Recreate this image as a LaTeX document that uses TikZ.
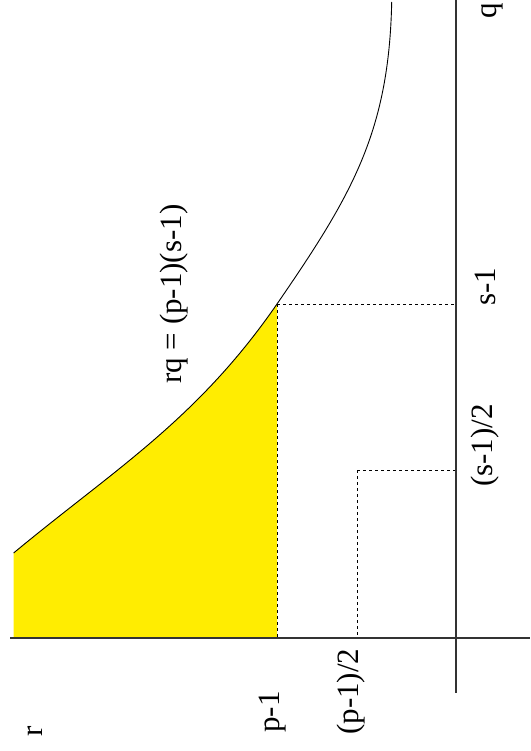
\documentclass[tikz,border=0pt]{standalone}
\usepackage{fontspec}
\setmainfont{Liberation Serif}
\begin{document}
\begin{tikzpicture}[x=1pt,y=-1pt,
  axis/.style={draw=black!80,line width=1.1pt},
  curve/.style={draw=black,line width=0.9pt},
  guide/.style={draw=black,line width=0.9pt,dash pattern=on 3pt off 3pt},
  lbl/.style={rotate=90,anchor=base west,inner sep=0pt,font=\fontsize{31}{36}\selectfont}]
\useasboundingbox (0,0) rectangle (530,751);
% coordinates
\coordinate (O) at (456,638);
\coordinate (xl) at (10,638);
\coordinate (xr) at (530,638);
\coordinate (yt) at (456,0);
\coordinate (yb) at (456,693);
\coordinate (C0) at (13.6,553);
\coordinate (B0) at (13.6,638);
\coordinate (P1) at (277,304);
\coordinate (P1b) at (277,638);
\coordinate (S1) at (456,304);
\coordinate (H) at (357,470);
\coordinate (Hb) at (357,638);
\coordinate (Hs) at (456,470);
\coordinate (Top) at (391.7,2);
% yellow region
\fill[yellow!95!orange] (B0) -- (C0) .. controls (113.6,470) and (197,420) .. (P1) -- (P1b) -- cycle;
% curve
\draw[curve] (C0) .. controls (113.6,470) and (197,420) .. (P1)
  .. controls (352,195) and (389,132) .. (Top);
% guides
\draw[guide] (P1) -- (P1b);
\draw[guide] (P1) -- (S1);
\draw[guide] (H) -- (Hb);
\draw[guide] (H) -- (Hs);
% axes
\draw[axis] (xl) -- (xr);
\draw[axis] (yt) -- (yb);
% labels
\node[lbl] (lr) at (42,737) {r};
\node[lbl] (lp1) at (279,733) {p-1};
\node[lbl] (lp2) at (358,735) {(p-1)/2};
\node[lbl] (ls1) at (495,306) {s-1};
\node[lbl] (ls2) at (492,487) {(s-1)/2};
\node[lbl] (lq) at (496,19) {q};
\node[lbl] (leq) at (181,384) {rq = (p-1)(s-1)};
\end{tikzpicture}
\end{document}
